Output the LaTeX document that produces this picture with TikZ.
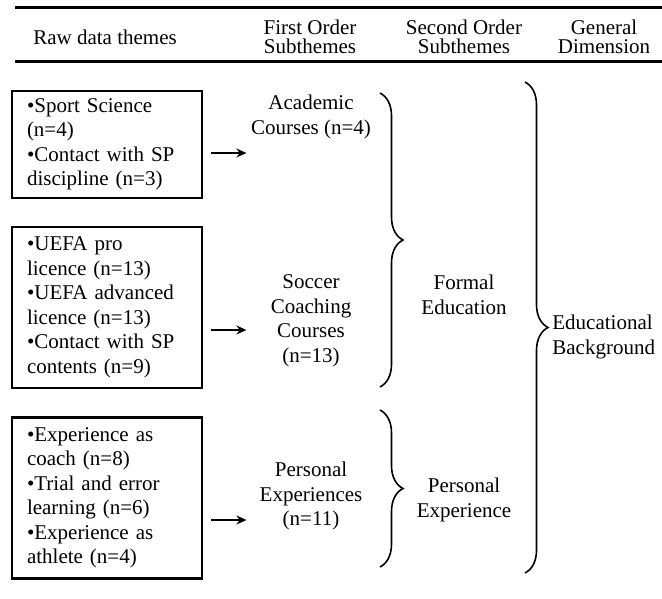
\documentclass[tikz,border=0pt]{standalone}
\usepackage{fontspec}
\setmainfont{Liberation Serif}
\usetikzlibrary{arrows.meta,decorations.pathreplacing}

\begin{document}
\begin{tikzpicture}[x=0.5pt, y=-0.5pt,
    cabecera/.style={font=\fontsize{10.5}{9.5}\selectfont, align=center, inner sep=0pt},
    texto/.style={font=\fontsize{10.5}{12.25}\selectfont, align=center, inner sep=0pt},
    tema/.style={draw, line width=1.4pt, font=\fontsize{10.5}{12.25}\selectfont,
        align=left, text width=80pt, inner xsep=7.5pt, inner ysep=0pt},
    flecha/.style={-{Stealth[length=5pt,width=4.5pt]}, line width=0.9pt},
    llave/.style={decorate, decoration={brace, amplitude=11.5pt}, line width=0.8pt}]
    \useasboundingbox (0,0) rectangle (662,598);
    % Cabecera
    \draw[line width=1.5pt] (15,8) -- (662,8);
    \draw[line width=1.5pt] (15,62) -- (662,62);
    \node[cabecera] (hraw) at (105,37) {Raw data themes};
    \node[cabecera] (hprim) at (310,37) {First Order\\Subthemes};
    \node[cabecera] (hseg) at (464,37) {Second Order\\Subthemes};
    \node[cabecera] (hgen) at (604,37) {General\\Dimension};
    % Temas de datos brutos
    \node[tema, minimum height=53.5pt] (caja1) at (107,144.5)
        {•Sport Science\\(n=4)\\•Contact with SP\\discipline (n=3)};
    \node[tema, minimum height=80.5pt] (caja2) at (107,307.5)
        {•UEFA pro\\licence (n=13)\\•UEFA advanced\\licence (n=13)\\•Contact with SP\\contents (n=9)};
    \node[tema, minimum height=80.5pt] (caja3) at (107,498)
        {•Experience as\\coach (n=8)\\•Trial and error\\learning (n=6)\\•Experience as\\athlete (n=4)};
    % Subtemas de primer orden
    \node[texto] (acad) at (311,117) {Academic\\Courses (n=4)};
    \node[texto] (futbol) at (311,321) {Soccer\\Coaching\\Courses\\(n=13)};
    \node[texto] (pers) at (311,496) {Personal\\Experiences\\(n=11)};
    \draw[flecha, shorten <=4pt] (caja1.east |- 0,153) -- ++(43,0);
    \draw[flecha, shorten <=4pt] (caja2.east |- 0,330) -- ++(43,0);
    \draw[flecha, shorten <=4pt] (caja3.east |- 0,520) -- ++(43,0);
    % Llaves
    \draw[llave] (380,93) -- (380,387);
    \draw[llave] (380,410) -- (380,567);
    \draw[llave] (525,82) -- (525,573);
    % Subtemas de segundo orden y dimension general
    \node[texto] (formal) at (464,295) {Formal\\Education};
    \node[texto] (persexp) at (464,500) {Personal\\Experience};
    \node[texto, align=left, anchor=west] (edu) at (552,337) {Educational\\Background};
\end{tikzpicture}
\end{document}
